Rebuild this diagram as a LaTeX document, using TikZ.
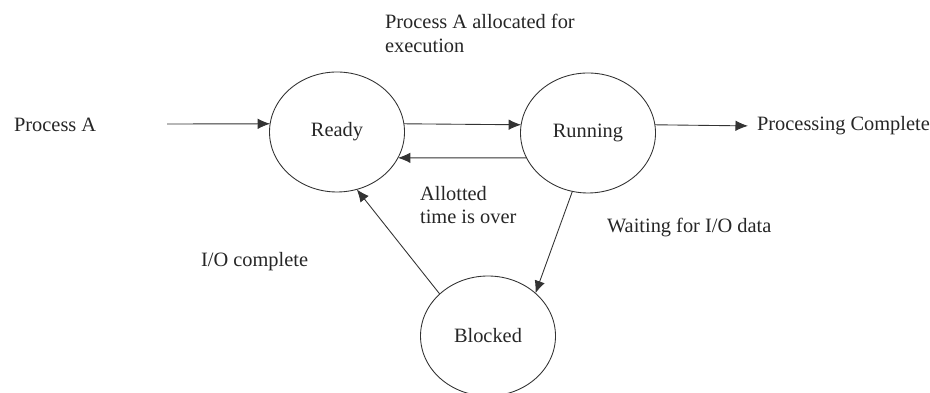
\documentclass[tikz,border=0pt]{standalone}
\usepackage{fontspec}
\setmainfont{Liberation Serif}
\usepackage{tikz}
\usetikzlibrary{shapes.geometric, arrows.meta}

\tikzset{
  state/.style={draw=black!80, ellipse, line width=0.5pt, minimum width=2.7cm, minimum height=2.4cm, outer sep=0pt},
  flow/.style={draw=black!80, line width=0.5pt, -{Latex[length=2.5mm, width=2.1mm]}},
  lbl/.style={inner sep=1pt, font=\fontsize{11.6}{13.5}\selectfont, text=black!85}
}

\begin{document}
\begin{tikzpicture}
  \useasboundingbox (0,0) rectangle (18.6,7.86);
  % States
  \node[state, lbl] (ready) at (6.74, 5.22) {Ready};
  \node[state, lbl] (running) at (11.76, 5.20) {Running};
  \node[state, lbl] (blocked) at (9.76, 1.14) {Blocked};
  % Entry and exit
  \node[lbl, anchor=west] (procA) at (0.24, 5.36) {Process A};
  \coordinate (entry) at (3.34, 5.38);
  \node[lbl, anchor=west] (done) at (15.10, 5.34) {Processing Complete};
  % Transitions
  \draw[flow] (entry) -- (ready.173);
  \draw[flow] (ready.7) -- (running.173);
  \draw[flow] (running.202) -- (ready.-23);
  \draw[flow, shorten >=4pt] (running.7) -- (done.west);
  \draw[flow] (running.255) -- (blocked.42);
  \draw[flow] (blocked.139) -- (ready.-71);
  % Transition labels
  \node[lbl, anchor=north west, align=left] (alloc) at (7.66, 7.62) {Process A allocated for\\execution};
  \node[lbl, anchor=north west, align=left] (timeout) at (8.36, 4.18) {Allotted\\time is over};
  \node[lbl, anchor=west] (waitio) at (12.10, 3.30) {Waiting for I/O data};
  \node[lbl, anchor=west] (iodone) at (3.98, 2.62) {I/O complete};
\end{tikzpicture}
\end{document}
